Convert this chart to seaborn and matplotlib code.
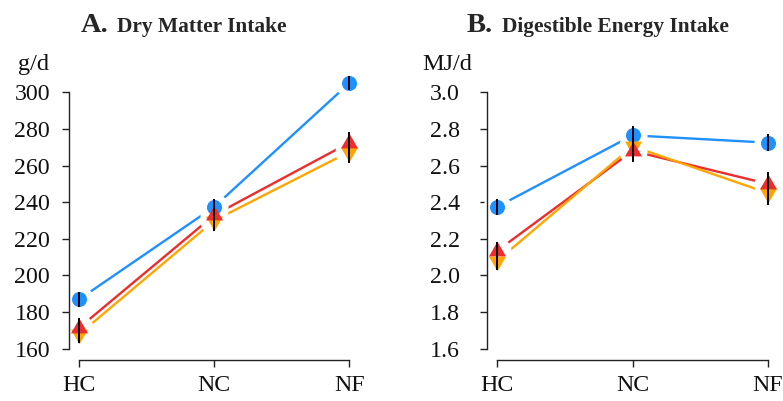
import numpy as np
import pandas as pd
import matplotlib
matplotlib.use('Agg')
import matplotlib.pyplot as plt
import seaborn as sns

# data
diets = ['HC', 'NC', 'NF']
groups = ['G1', 'G2', 'G3']

dmi_g1 = [187, 237.5, 305]
dmi_g2 = [171.5, 233, 272.5]
dmi_g3 = [168, 230, 267.5]
dmi_g1_err = [4, 4, 4]
dmi_g2_err = [5, 7, 6]
dmi_g3_err = [5, 6, 6]

dei_g1 = [2.375, 2.765, 2.725]
dei_g2 = [2.135, 2.68, 2.50]
dei_g3 = [2.08, 2.705, 2.45]
dei_g1_err = [0.045, 0.05, 0.045]
dei_g2_err = [0.05, 0.06, 0.065]
dei_g3_err = [0.05, 0.06, 0.065]

colors = {'G1': '#1E90FF', 'G2': '#EE2C2C', 'G3': '#FFA500'}
# equilateral triangles centred on their centroid, like R's pch 17
tri_up = [(0, 1), (-0.866, -0.5), (0.866, -0.5), (0, 1)]
tri_down = [(0, -1), (-0.866, 0.5), (0.866, 0.5), (0, -1)]
markers = {'G1': 'o', 'G2': tri_up, 'G3': tri_down}
msize = {'G1': 15, 'G2': 19.6, 'G3': 19.6}


def long_df(vals, errs):
    rows = []
    for g, v, e in zip(groups, vals, errs):
        for i, d in enumerate(diets):
            rows.append({'diet': d, 'pos': i, 'group': g, 'value': v[i], 'err': e[i]})
    return pd.DataFrame(rows)


dmi = long_df([dmi_g1, dmi_g2, dmi_g3], [dmi_g1_err, dmi_g2_err, dmi_g3_err])
dei = long_df([dei_g1, dei_g2, dei_g3], [dei_g1_err, dei_g2_err, dei_g3_err])

sns.set_style('white')
plt.rcParams['font.family'] = ['Liberation Serif', 'DejaVu Serif']

W, H = 783, 401
fig = plt.figure(figsize=(W / 100, H / 100), dpi=100)
FS = 17.2


def make_axes(left_px, x0_px, step_px, y_lo, y_hi, ylo_px, yhi_px):
    # pixel geometry of the panel, R-style detached axes
    top_px, bot_px = 75, 360
    right_px = x0_px + 2 * step_px + (x0_px - left_px)
    ax = fig.add_axes([left_px / W, 1 - bot_px / H, (right_px - left_px) / W, (bot_px - top_px) / H])
    ppu = (ylo_px - yhi_px) / (y_hi - y_lo)
    ax.set_ylim(y_lo - (bot_px - ylo_px) / ppu, y_hi + (yhi_px - top_px) / ppu)
    xu = (x0_px - left_px) / step_px
    ax.set_xlim(-xu, 2 + xu)
    return ax


def draw(ax, df, yticks, fmt, ypad, unit, unit_x):
    sns.lineplot(data=df, x='pos', y='value', hue='group', palette=colors,
                 hue_order=groups, lw=1.7, legend=False, ax=ax, zorder=1)
    # white halo so the lines stop short of the points
    ax.scatter(df['pos'], df['value'], s=28 ** 2 * 0.52, color='white', zorder=2, lw=0)
    for g in ['G1', 'G3', 'G2']:
        sub = df[df['group'] == g]
        sns.scatterplot(data=sub, x='pos', y='value', color=colors[g], marker=markers[g],
                        s=msize[g] ** 2 * 0.52, linewidth=0, legend=False, ax=ax, zorder=3)
    for g in ['G1', 'G3', 'G2']:
        sub = df[df['group'] == g]
        ax.errorbar(sub['pos'], sub['value'], yerr=sub['err'], fmt='none',
                    ecolor='black', elinewidth=1.4, capsize=0, zorder=4)
    for c in ax.collections:
        c.set_clip_on(False)
    for l in ax.lines:
        l.set_clip_on(False)

    sns.despine(ax=ax)
    ax.spines['left'].set_bounds(yticks[0], yticks[-1])
    ax.spines['bottom'].set_bounds(0, 2)
    for s in ['left', 'bottom']:
        ax.spines[s].set_linewidth(1.0)
        ax.spines[s].set_color('#222222')
    ax.set_yticks(yticks)
    ax.set_yticklabels([fmt.format(t) for t in yticks])
    ax.set_xticks([0, 1, 2])
    ax.set_xticklabels(diets)
    ax.tick_params(axis='both', direction='out', length=4.8, width=1.0, color='#222222',
                   labelsize=FS, labelcolor='#111111', left=True, bottom=True)
    ax.tick_params(axis='y', pad=ypad)
    ax.tick_params(axis='x', pad=6)
    ax.set_xlabel('')
    ax.set_ylabel('')
    fig.text(unit_x / W, 1 - 70 / H, unit, fontsize=17.5, color='#111111', ha='left', va='baseline')


ax1 = make_axes(69, 79.3, 135, 160, 300, 348.7, 92.3)
draw(ax1, dmi, list(range(160, 301, 20)), '{:d}', 8.8, 'g/d', 18)

ax2 = make_axes(487, 497.3, 135.3, 1.6, 3.0, 348.7, 92.3)
draw(ax2, dei, list(np.round(np.arange(1.6, 3.01, 0.2), 1)), '{:.1f}', 14.6, 'MJ/d', 422)

# panel titles
fig.text(81 / W, 1 - 32 / H, 'A.', fontsize=20.5, fontweight='bold', va='baseline')
fig.text(117 / W, 1 - 32 / H, 'Dry Matter Intake', fontsize=15.4, fontweight='bold', va='baseline')
fig.text(467 / W, 1 - 32 / H, 'B.', fontsize=20.5, fontweight='bold', va='baseline')
fig.text(502 / W, 1 - 32 / H, 'Digestible Energy Intake', fontsize=15.4, fontweight='bold', va='baseline')

fig.savefig('out.png', dpi=100)
